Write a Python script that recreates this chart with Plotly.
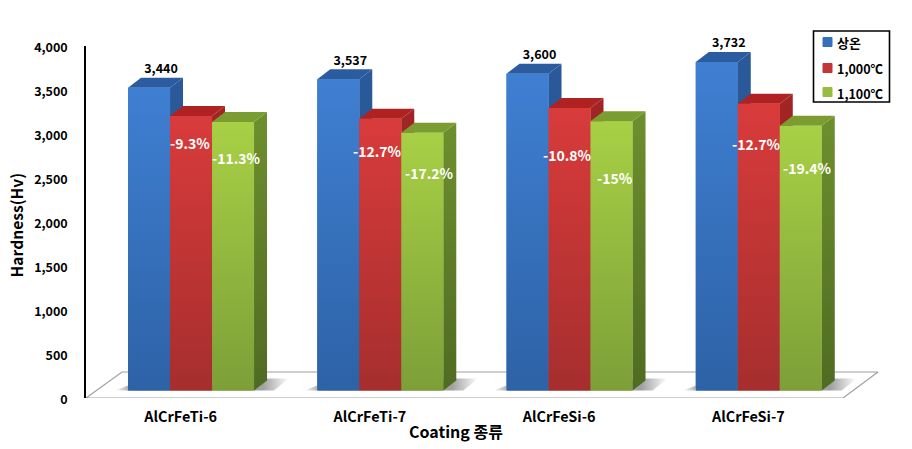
import plotly.graph_objects as go

categories = ["AlCrFeTi-6", "AlCrFeTi-7", "AlCrFeSi-6", "AlCrFeSi-7"]
series_names = ["상온", "1,000℃", "1,100℃"]
room_temp = [3440, 3537, 3600, 3732]
temp_1000 = [3120, 3088, 3211, 3258]
temp_1100 = [3051, 2929, 3060, 3008]
pct_1000 = ["-9.3%", "-12.7%", "-10.8%", "-12.7%"]
pct_1100 = ["-11.3%", "-17.2%", "-15%", "-19.4%"]
y_ticks = [0, 500, 1000, 1500, 2000, 2500, 3000, 3500, 4000]

FONT = "Noto Sans CJK KR"
# pixel geometry of the frame
W, H = 912, 449
L, R, T, B = 86, 880, 46, 398
PX_X = 189.25          # px per category
PX_Y = (B - T) / 4000  # px per hardness unit
ux = lambda px: px / PX_X
uy = lambda px: px / PX_Y
paper_x = lambda px: (px - L) / (R - L)
paper_y = lambda px: (B - px) / (B - T)

bar_w = ux(42)
group_shift = ux(10.4)
base = uy(7.5)
dx, dy = ux(13), uy(10)
all_values = [room_temp, temp_1000, temp_1100]
all_pct = [None, pct_1000, pct_1100]

front_colors = [("#2D62A6", "#3F7FD2"), ("#A62E2E", "#D93B3B"), ("#7D9F38", "#A8D045")]
side_colors = [("#234E85", "#2A5A9A"), ("#7E1E1E", "#A32525"), ("#4F6B22", "#6E8F2E")]
top_colors = ["#2B5CA0", "#B02222", "#7A9C30"]
legend_colors = ["#3570BC", "#C43535", "#96BC40"]

fig = go.Figure()

# real bars (front faces)
for j, (name, vals) in enumerate(zip(series_names, all_values)):
    fig.add_bar(
        x=[i + group_shift + (j - 1) * bar_w for i in range(len(categories))],
        y=vals, base=[base] * len(vals), width=bar_w, name=name,
        marker=dict(color=legend_colors[j], line_width=0), hoverinfo="skip", showlegend=False,
    )

# floor
fx = [-0.5, 3.5, 3.5 + ux(35), -0.5 + ux(36), -0.5]
fy = [0, 0, uy(26), uy(26), 0]
fig.add_scatter(x=fx, y=fy, mode="lines", line=dict(color="#A0A0A0", width=1.2),
                showlegend=False, hoverinfo="skip", cliponaxis=False)

# soft shadows on the floor
for i in range(len(categories)):
    c = i + group_shift
    xl, xr = c - 1.5 * bar_w, c + 1.5 * bar_w
    fig.add_scatter(
        x=[xl - ux(13), xl, xl, xr + dx, xr + dx + ux(22), xr + ux(20), xl - ux(13)],
        y=[base, base + uy(5), base, base + dy * 1.2, base + dy * 1.2, base, base],
        mode="lines", line_width=0, fill="toself", showlegend=False, hoverinfo="skip",
        fillgradient=dict(type="horizontal", colorscale=[
            [0, "rgba(150,150,150,0)"], [0.09, "rgba(150,150,150,0.9)"],
            [0.85, "rgba(150,150,150,0.9)"], [1, "rgba(150,150,150,0)"]]),
    )

# 3D faces
for j, vals in enumerate(all_values):
    for i, v in enumerate(vals):
        c = i + group_shift + (j - 1) * bar_w
        x0, x1 = c - bar_w / 2, c + bar_w / 2
        top = base + v
        fig.add_scatter(
            x=[x1, x1 + dx, x1 + dx, x1, x1], y=[base, base + dy, top + dy, top, base],
            mode="lines", line_width=0, fill="toself", showlegend=False, hoverinfo="skip",
            fillgradient=dict(type="vertical", colorscale=[[0, side_colors[j][0]], [1, side_colors[j][1]]]),
        )
        fig.add_scatter(
            x=[x0, x0 + dx, x1 + dx, x1, x0], y=[top, top + dy, top + dy, top, top],
            mode="lines", line_width=0, fill="toself", fillcolor=top_colors[j],
            showlegend=False, hoverinfo="skip",
        )
        fig.add_scatter(
            x=[x0, x1, x1, x0, x0], y=[base, base, top, top, base],
            mode="lines", line_width=0, fill="toself", showlegend=False, hoverinfo="skip",
            fillgradient=dict(type="vertical", colorscale=[[0, front_colors[j][0]], [1, front_colors[j][1]]]),
        )

# value labels on the first series
fig.add_scatter(
    x=[i + group_shift - bar_w + dx - ux(1) for i in range(len(room_temp))],
    y=[base + v + dy + uy(1.5) for v in room_temp],
    text=[f"{v:,}" for v in room_temp], mode="text", textposition="top center",
    textfont=dict(family=FONT, size=12.5, color="black", weight="bold"),
    showlegend=False, hoverinfo="skip", cliponaxis=False,
)

# percent labels: pixel nudges from each bar's top centre
nudges = {
    1: [(-1, 27), (-2.5, 32), (-2.5, 47), (-2, 40)],
    2: [(3, 36), (7.5, 40), (3.5, 57), (7, 42)],
}
annotations = []
for j in (1, 2):
    for i, label in enumerate(all_pct[j]):
        nx, ny = nudges[j][i]
        annotations.append(dict(
            x=i + group_shift + (j - 1) * bar_w, y=base + all_values[j][i],
            text=f"<b>{label}</b>", showarrow=False, xshift=nx, yshift=-ny,
            font=dict(family=FONT, size=14, color="white"),
        ))

# legend box
shapes = [dict(type="rect", xref="paper", yref="paper", x0=paper_x(813.5), x1=paper_x(889.5),
               y0=paper_y(102), y1=paper_y(31), fillcolor="white",
               line=dict(color="black", width=1.6), layer="above")]
for k, (nm, col, ypx) in enumerate(zip(series_names, legend_colors, [42, 68, 92])):
    shapes.append(dict(type="rect", xref="paper", yref="paper",
                       x0=paper_x(823), x1=paper_x(832), y0=paper_y(ypx + 4.5), y1=paper_y(ypx - 4.5),
                       fillcolor=col, line=dict(color=col, width=1), layer="above"))
    annotations.append(dict(
        x=paper_x(835), y=paper_y(ypx + 1), xref="paper", yref="paper",
        xanchor="left", yanchor="middle", showarrow=False,
        text=f"<b>{nm}</b>", font=dict(family=FONT, size=13 if k == 0 else 12.5, color="black"),
    ))

# axis titles, placed where the reference has them
annotations.append(dict(
    x=paper_x(455.5), y=paper_y(431), xref="paper", yref="paper", showarrow=False,
    xanchor="center", yanchor="middle", text="<b>Coating 종류</b>",
    font=dict(family=FONT, size=16, color="black"),
))
annotations.append(dict(
    x=paper_x(15.5), y=paper_y(225), xref="paper", yref="paper", showarrow=False,
    xanchor="center", yanchor="middle", textangle=-90, text="<b>Hardness(Hv)</b>",
    font=dict(family=FONT, size=15.6, color="black"),
))

fig.update_layout(
    width=W, height=H, autosize=False,
    margin=dict(l=L, r=W - R, t=T, b=H - B),
    paper_bgcolor="white", plot_bgcolor="white",
    barmode="overlay", annotations=annotations, shapes=shapes, showlegend=False,
    font=dict(family=FONT, color="black"),
    xaxis=dict(
        range=[-0.5, -0.5 + (R - L) / PX_X], tickvals=list(range(len(categories))),
        ticktext=[f"<b>{c}</b>" for c in categories], showgrid=False, zeroline=False,
        showline=False, ticks="", ticklabelstandoff=9, automargin=False,
        tickfont=dict(family=FONT, size=14.4, color="black"),
    ),
    yaxis=dict(
        range=[0, 4000], tickvals=y_ticks, tickformat=",", showgrid=False, zeroline=False,
        showline=True, linecolor="black", linewidth=1.5, ticks="", ticklabelstandoff=14,
        ticklabelshift=2, automargin=False,
        tickfont=dict(family=FONT, size=12.5, color="black", weight="bold"),
    ),
)

fig.write_html("out.html", post_script="document.body.style.margin='0';",
               config=dict(displayModeBar=False))
